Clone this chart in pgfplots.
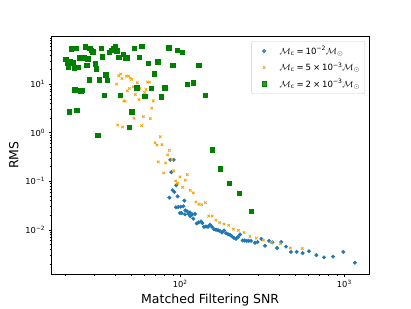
\documentclass[border=0pt]{standalone}
\usepackage{fontspec}
\setmainfont{DejaVu Sans}
\usepackage{pgfplots}
\pgfplotsset{compat=1.18}
\usepackage{pgfplotstable}
\definecolor{cblue}{HTML}{1F77B4}
\definecolor{corange}{HTML}{FFA500}
\definecolor{cgreen}{HTML}{008000}

\pgfplotstableread{
x y
86.9 0.276
91.1 0.276
88.1 0.1535
89.8 0.0651
91.9 0.0602
85.7 0.0459
94.5 0.0827
96.3 0.0489
105.8 0.0398
94.1 0.0290
97.2 0.0294
100.5 0.0299
104.3 0.0304
99.5 0.0221
101.9 0.0221
107.3 0.0251
110.3 0.0239
106.8 0.0208
112.4 0.0211
115.1 0.0191
114.5 0.0228
118.4 0.0208
122.9 0.0211
120.0 0.0169
125.8 0.0135
129.4 0.0142
133.7 0.0149
136.2 0.0137
139.4 0.0115
143.4 0.0117
147.5 0.0115
151.7 0.0127
156.0 0.0115
160.4 0.0103
165.0 0.0100
169.7 0.0098
174.6 0.0094
179.5 0.0088
184.6 0.0097
189.9 0.0085
195.3 0.0081
200.9 0.0079
206.5 0.0073
212.4 0.0068
218.5 0.0065
224.7 0.0071
231.1 0.0080
239.9 0.0060
247.0 0.0060
254.0 0.0059
261.0 0.0059
269.7 0.0059
285.3 0.0054
296.2 0.0056
311.9 0.0065
328.4 0.0047
347.3 0.0059
363.9 0.0055
388.6 0.0042
412.9 0.0056
440.9 0.0045
472.9 0.0035
512.2 0.0035
557.0 0.0033
609.0 0.0036
675.1 0.0030
751.6 0.0027
852.9 0.0028
986.0 0.0035
1161 0.0021
}\tblblue

\pgfplotstableread{
x y
43.3 16.1
42.1 14.9
44.1 13.1
46.9 14.6
48.4 14.6
49.6 13.3
50.5 12.5
40.9 10.0
51.7 8.81
48.9 8.13
47.5 7.28
54.7 10.7
56.8 8.13
61.8 7.76
60.6 6.72
63.2 11.0
64.7 11.0
53.2 6.11
56.0 4.82
68.4 4.52
42.9 5.38
45.3 4.52
46.0 4.45
60.6 5.65
66.9 3.19
59.5 2.14
52.2 1.98
65.6 1.95
41.5 1.44
44.5 1.31
58.1 1.40
75.5 0.826
70.1 0.621
72.1 0.556
77.3 0.566
85.7 0.431
83.7 0.350
89.0 0.280
73.4 0.251
81.4 0.239
79.1 0.149
91.1 0.164
110.3 0.137
93.7 0.1016
96.3 0.0909
99.5 0.123
107.3 0.105
103.3 0.0751
115.1 0.0651
120.0 0.0574
124.6 0.0374
130.0 0.0334
134.9 0.0329
142.1 0.0362
148.9 0.0192
156.7 0.0192
165.0 0.0158
173.8 0.0140
184.6 0.0131
197.1 0.0123
210.5 0.0103
225.8 0.0097
244.5 0.0088
266.0 0.0073
290.7 0.0067
320.7 0.0061
360.5 0.0055
407.2 0.0052
468.5 0.0042
554.4 0.0041
}\tblorange

\pgfplotstableread{
x y
21.6 53.8
23.1 54.7
26.4 59.2
28.1 54.7
28.7 50.5
29.3 46.7
33.0 54.7
36.7 45.2
38.0 50.5
39.2 55.6
40.0 60.1
40.9 49.0
42.3 35.7
44.7 41.8
46.0 34.5
47.3 35.1
52.2 54.7
58.1 60.1
56.0 36.2
84.9 56.5
95.9 49.7
102.4 45.2
20.0 32.9
20.4 26.8
20.8 22.8
21.4 29.0
22.2 27.6
22.5 21.4
23.9 22.5
24.2 35.1
25.1 34.5
25.9 35.1
27.2 33.4
26.9 24.3
30.2 26.4
30.8 20.8
33.5 36.8
35.1 15.6
35.9 11.9
31.9 12.3
27.9 12.3
41.7 35.7
63.5 27.2
72.8 29.0
69.1 16.4
89.8 24.7
129.4 24.7
21.1 2.72
23.4 2.90
22.7 7.63
24.7 7.28
25.1 7.52
34.3 5.92
43.1 5.92
54.2 8.40
60.7 5.65
66.2 8.26
76.6 5.56
80.3 8.40
110.3 9.85
119.5 10.8
141.3 5.92
50.5 2.68
48.9 1.29
31.3 0.895
156.7 0.445
175.3 0.180
198.1 0.091
228 0.0574
271 0.0239
}\tblgreen

\newcommand{\Mc}{$\mathcal{M}_{\mathrm{c}}$}
\newcommand{\Ms}{$\mathcal{M}_{\odot}$}

\begin{document}
\begin{tikzpicture}
\useasboundingbox (0pt,0pt) rectangle (411pt,308pt);
\begin{axis}[
  at={(51pt,33.7pt)}, anchor=south west,
  width=318.3pt, height=238.3pt, scale only axis,
  xmode=log, ymode=log,
  xmin=16.28, xmax=1420, ymin=0.00121, ymax=98,
  axis line style={black, line width=0.55pt},
  tick align=outside, tick pos=left,
  major tick length=2.4pt, minor tick length=1.4pt,
  every tick/.style={black, line width=0.5pt},
  minor tick style={line width=0.4pt},
  xtick={100,1000},
  xticklabels={10\textsuperscript{2},10\textsuperscript{3}},
  minor xtick={20,30,40,50,60,70,80,90,200,300,400,500,600,700,800,900},
  ytick={0.01,0.1,1,10},
  yticklabels={10\textsuperscript{−2},10\textsuperscript{−1},10\textsuperscript{0},10\textsuperscript{1}},
  minor ytick={0.002,0.003,0.004,0.005,0.006,0.007,0.008,0.009,0.02,0.03,0.04,0.05,0.06,0.07,0.08,0.09,0.2,0.3,0.4,0.5,0.6,0.7,0.8,0.9,2,3,4,5,6,7,8,9,20,30,40,50,60,70,80,90},
  tick label style={font=\fontsize{8.3}{9}\selectfont},
  xlabel={Matched Filtering SNR},
  ylabel={RMS},
  label style={font=\fontsize{12.5}{14}\selectfont},
  legend cell align=left,
  legend style={at={(1,1)}, anchor=north east, xshift=-4.3pt, yshift=-5pt,
    draw=black!20, rounded corners=2pt, fill=white, fill opacity=0.8, text opacity=1,
    font=\fontsize{8.6}{10.5}\selectfont, row sep=2.6pt, inner xsep=3pt, inner ysep=3pt},
  myleg/.style={legend image code/.code={\path (0cm,0cm) (0.8cm,0cm); \draw[mark repeat=2,mark phase=2,##1] plot coordinates {(0cm,0cm) (0.33cm,0cm) (0.66cm,0cm)};}},
]
\addplot[only marks, mark=*, mark size=1.8pt, color=cblue, myleg] table[x=x,y=y] {\tblblue};
\addlegendentry{\Mc\:=\:10\textsuperscript{−2}\Ms}
\addplot[only marks, mark=x, mark size=1.7pt, color=corange, mark options={line width=0.9pt}, myleg] table[x=x,y=y] {\tblorange};
\addlegendentry{\Mc\:=\:5\:×\:10\textsuperscript{−3}\Ms}
\addplot[only marks, mark=square*, mark size=2.2pt, color=cgreen, myleg] table[x=x,y=y] {\tblgreen};
\addlegendentry{\Mc\:=\:2\:×\:10\textsuperscript{−3}\Ms}
\end{axis}
\end{tikzpicture}
\end{document}
